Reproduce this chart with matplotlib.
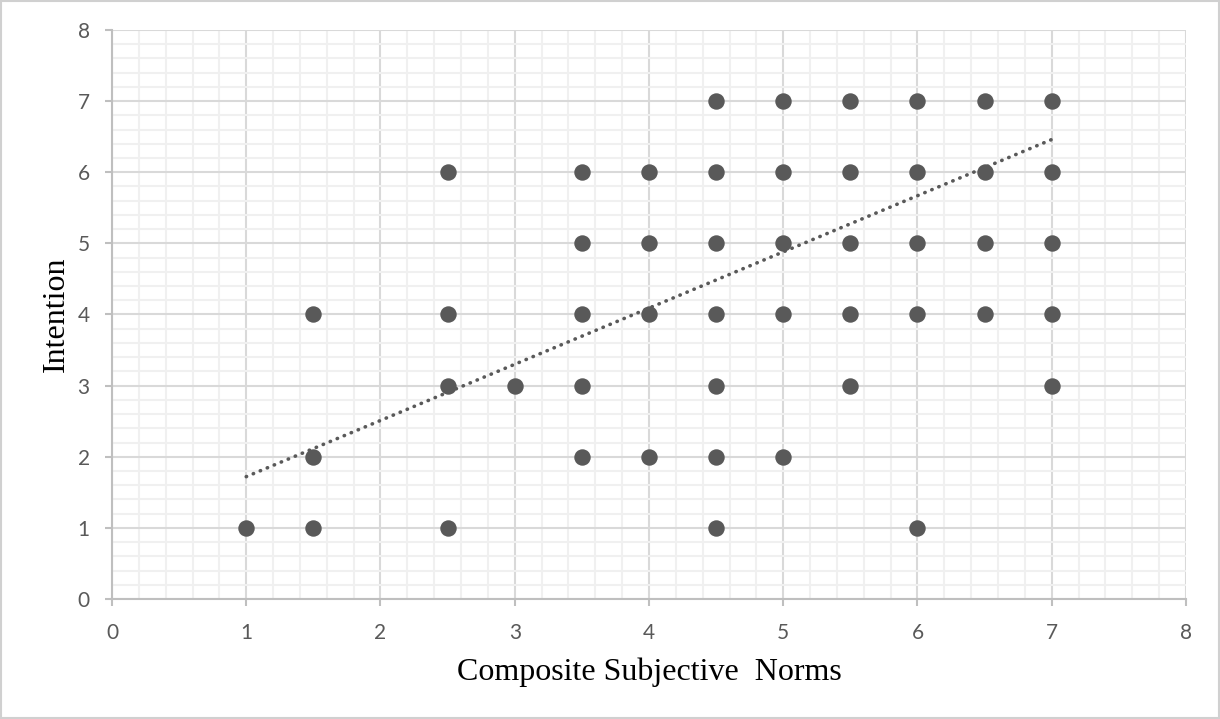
import numpy as np
import matplotlib
matplotlib.use("Agg")
import matplotlib.pyplot as plt
from matplotlib.ticker import MultipleLocator
from matplotlib.patches import Rectangle

# scatter values (x = subjective norms, y = intention)
norms = [4.5, 5, 5.5, 6, 6.5, 7,
         2.5, 3.5, 4, 4.5, 5, 5.5, 6, 6.5, 7,
         3.5, 4, 4.5, 5, 5.5, 6, 6.5, 7,
         1.5, 2.5, 3.5, 4, 4.5, 5, 5.5, 6, 6.5, 7,
         2.5, 3, 3.5, 4.5, 5.5, 7,
         1.5, 3.5, 4, 4.5, 5,
         1, 1.5, 2.5, 4.5, 6]
intention = [7, 7, 7, 7, 7, 7,
             6, 6, 6, 6, 6, 6, 6, 6, 6,
             5, 5, 5, 5, 5, 5, 5, 5,
             4, 4, 4, 4, 4, 4, 4, 4, 4, 4,
             3, 3, 3, 3, 3, 3,
             2, 2, 2, 2, 2,
             1, 1, 1, 1, 1]

# linear trendline end points
trend_x = [1, 7]
trend_y = [1.72, 6.46]

fig = plt.figure(figsize=(12.2, 7.19), dpi=100)
ax = fig.add_axes([0.0918, 0.1669, 0.8803, 0.7914])

ax.scatter(norms, intention, s=140, color='#595959', zorder=3, linewidths=0)
ax.plot(trend_x, trend_y, linestyle=(0, (0.1, 2.0)), color='#595959', linewidth=2.6,
        dash_capstyle='round', zorder=4)

ax.set_xlim(0, 8)
ax.set_ylim(0, 8)
ax.xaxis.set_major_locator(MultipleLocator(1))
ax.yaxis.set_major_locator(MultipleLocator(1))
ax.xaxis.set_minor_locator(MultipleLocator(0.2))
ax.yaxis.set_minor_locator(MultipleLocator(0.2))
ax.grid(which='minor', color='#f0f0f0', linewidth=1.5, zorder=0)
ax.grid(which='major', color='#d9d9d9', linewidth=1.5, zorder=1)
ax.set_axisbelow(True)

for s in ['top', 'right']:
    ax.spines[s].set_visible(False)
for s in ['left', 'bottom']:
    ax.spines[s].set_color('#bfbfbf')
    ax.spines[s].set_linewidth(1.5)

ax.tick_params(which='major', length=5, width=1.5, color='#bfbfbf',
               labelsize=15, labelcolor='#595959')
ax.tick_params(axis='x', which='major', pad=12)
ax.tick_params(axis='y', which='major', pad=11)
ax.tick_params(which='minor', length=0)
for lab in ax.get_xticklabels() + ax.get_yticklabels():
    lab.set_family('Lato')

ax.set_xlabel('Composite Subjective  Norms', family='Liberation Serif', fontsize=23,
              labelpad=11)
ax.set_ylabel('Intention', family='Liberation Serif', fontsize=23, labelpad=5)

fig.add_artist(Rectangle((0.001, 0.001), 0.998, 0.998, transform=fig.transFigure,
                         fill=False, edgecolor='#d0d0d0', linewidth=1.5))

plt.savefig('out.png', dpi=100)
